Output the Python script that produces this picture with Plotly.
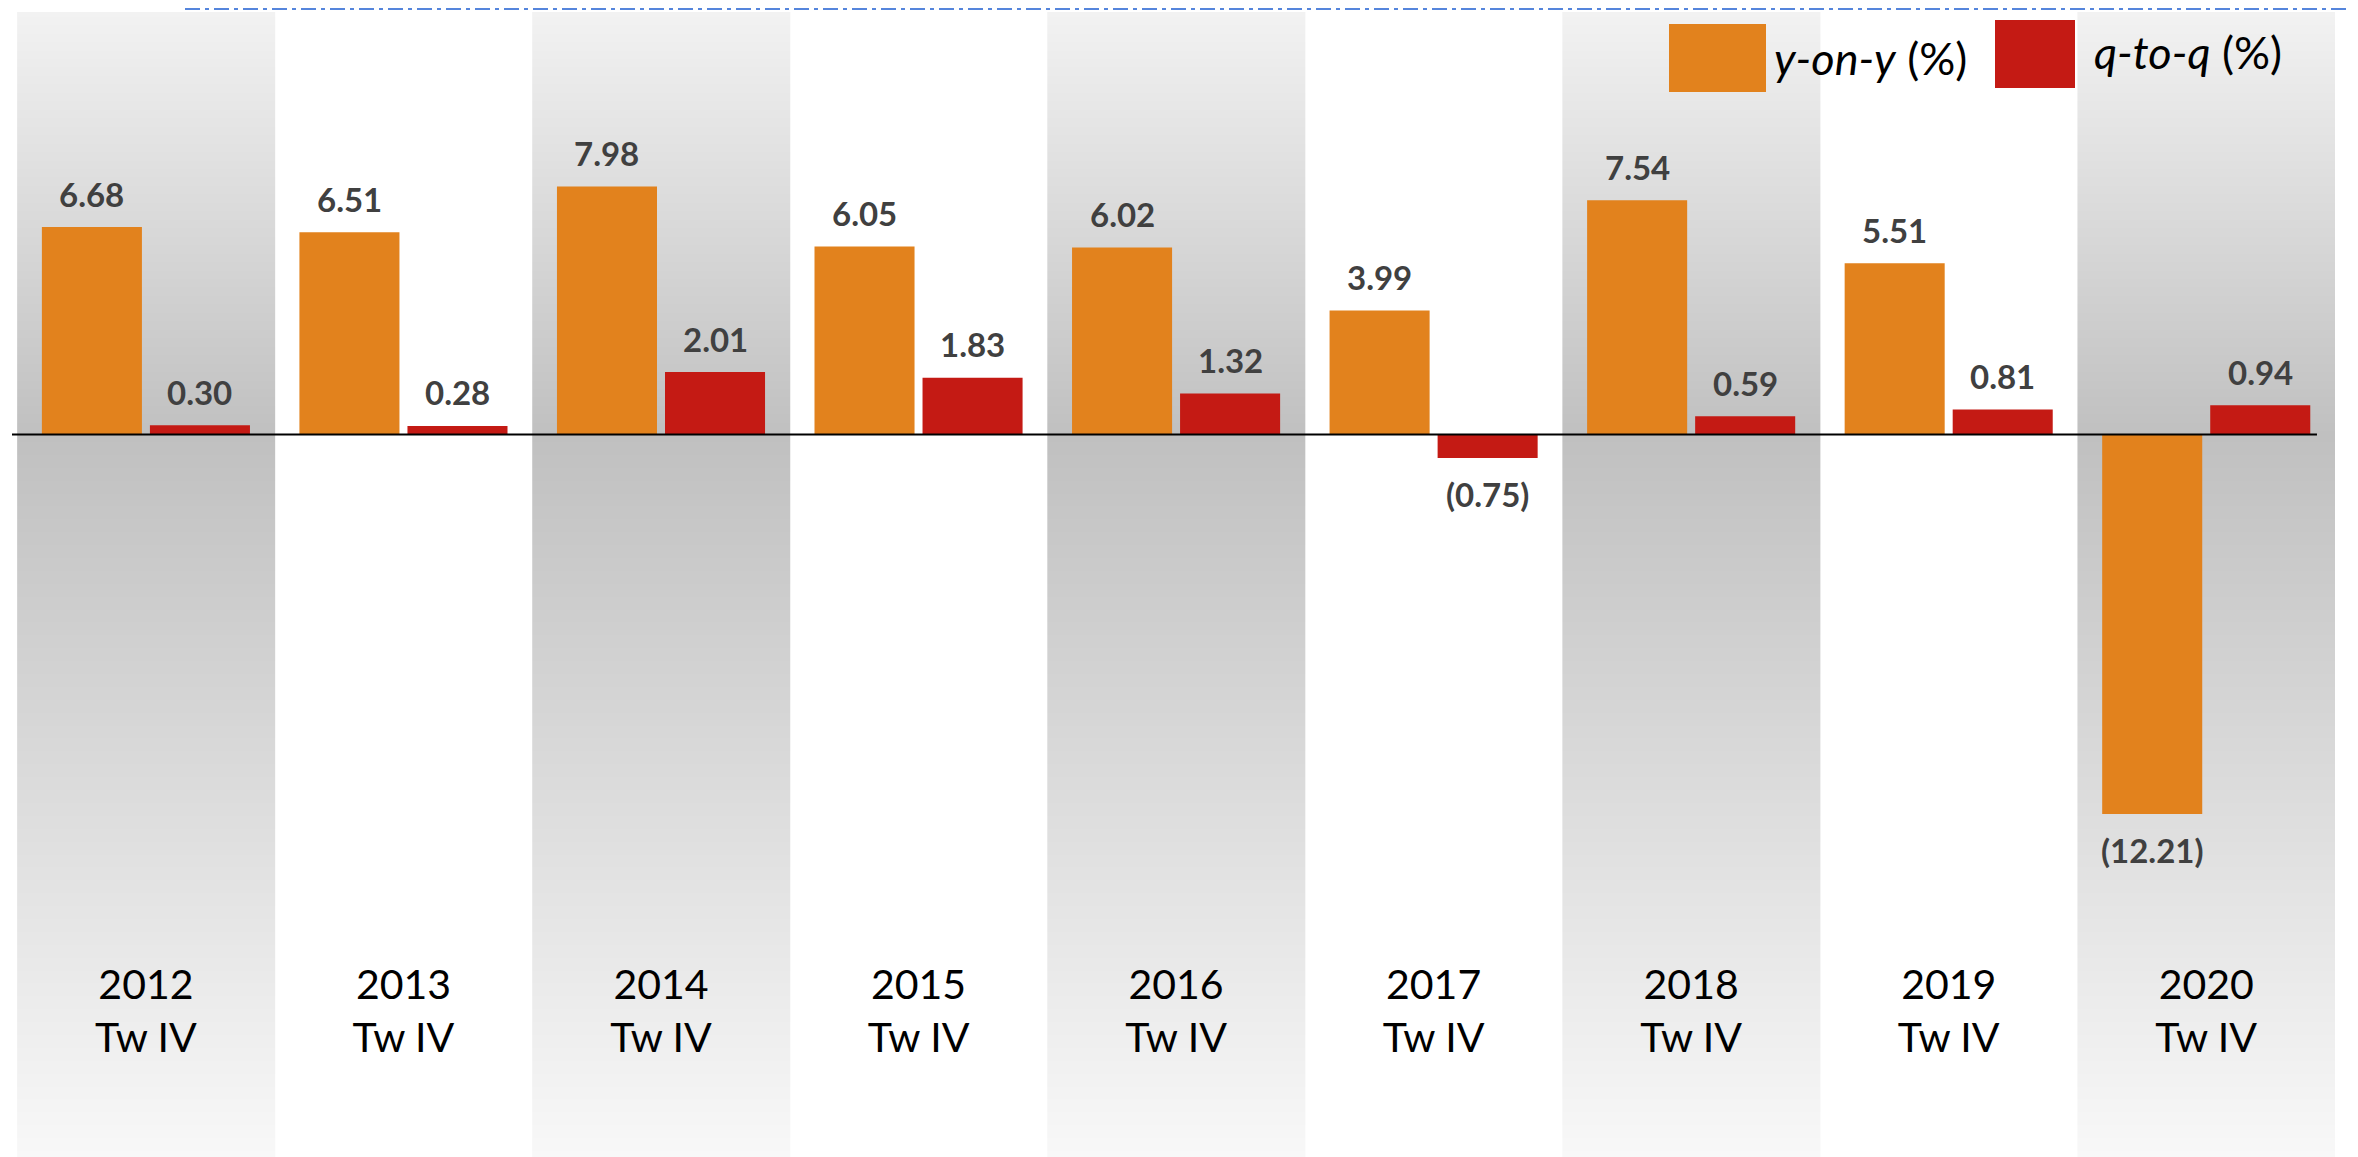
import plotly.graph_objects as go

# ---------------- data ----------------
categories = ["2012", "2013", "2014", "2015", "2016", "2017", "2018", "2019", "2020"]
quarter_label = "Tw IV"
yoy = [6.68, 6.51, 7.98, 6.05, 6.02, 3.99, 7.54, 5.51, -12.21]
qoq = [0.30, 0.28, 2.01, 1.83, 1.32, -0.75, 0.59, 0.81, 0.94]
series_names = ["y-on-y", "q-to-q"]
series_unit = "(%)"

# ---------------- style ----------------
ORANGE = "#E2821D"
RED = "#C41A14"
LABEL_COLOR = "#404040"
OFF = 8                      # default page body margin
PAGE_W, PAGE_H = 2358, 1157
W, H = PAGE_W - OFF, PAGE_H - OFF
# plot area in page pixels: x 12..2335, y 12..1157
ML, MR, MT, MB = 12 - OFF, PAGE_W - 2335, 12 - OFF, 0
X_RANGE = [-0.52, 8.5]
Y_RANGE = [-23.25, 13.6]
BARGAP = 0.161
BARGROUPGAP = 0.074
PW = W - ML - MR
PH = H - MT - MB
FONT = "Lato"


def px_x(px):
    """page pixel x -> paper fraction"""
    return (px - OFF - ML) / PW


def px_y(py):
    """page pixel y -> paper fraction"""
    return 1 - (py - OFF - MT) / PH


def fmt(v):
    return f"({abs(v):.2f})" if v < 0 else f"{v:.2f}"


xs = list(range(len(categories)))
fig = go.Figure()

# gradient background bands (alternate categories)
band_y = [Y_RANGE[1], 0, Y_RANGE[0]]
band_gray = [242, 192, 248]
for i in range(0, len(categories), 2):
    x0 = max(i - 0.5, X_RANGE[0])
    x1 = i + 0.5
    fig.add_trace(go.Heatmap(
        x=[x0, i, x1], y=band_y, z=[[g, g] for g in band_gray],
        zmin=0, zmax=255, zsmooth="best",
        colorscale=[[0, "rgb(0,0,0)"], [1, "rgb(255,255,255)"]],
        showscale=False, hoverinfo="skip",
    ))

# bars
for vals, name, color in [(yoy, series_names[0], ORANGE), (qoq, series_names[1], RED)]:
    fig.add_trace(go.Bar(
        x=xs, y=vals, name=f"{name} {series_unit}", marker=dict(color=color, line=dict(width=0)),
        showlegend=False,
    ))

# data labels, positioned from bar group geometry
slot = (1 - BARGAP) / 2
offsets = [-slot / 2, slot / 2]
annotations = []
for vals, off in zip([yoy, qoq], offsets):
    for i, v in enumerate(vals):
        annotations.append(dict(
            x=i + off, y=v, xref="x", yref="y", text=fmt(v), showarrow=False,
            xanchor="center", yanchor="middle", yshift=33.5 if v >= 0 else -36,
            font=dict(family=FONT, size=33, color=LABEL_COLOR, weight=700),
        ))

# manual legend (large squares)
legend_items = [
    (series_names[0], ORANGE, (1669, 24, 1766, 92), 1772, 58),
    (series_names[1], RED, (1995, 20, 2075, 88), 2092, 52),
]
shapes = []
for name, color, (a, b, c, d), tx, ty in legend_items:
    shapes.append(dict(type="rect", xref="paper", yref="paper",
                       x0=px_x(a), x1=px_x(c), y0=px_y(d), y1=px_y(b),
                       fillcolor=color, line=dict(width=0), layer="above"))
    annotations.append(dict(
        x=px_x(tx), y=px_y(ty), xref="paper", yref="paper",
        text=f"<i>{name}</i> {series_unit}", showarrow=False,
        xanchor="left", yanchor="middle",
        font=dict(family=FONT, size=45, color="#000000"),
    ))

# zero line
shapes.append(dict(type="line", xref="x", yref="y", x0=X_RANGE[0] - 0.01, x1=8.43, y0=0, y1=0,
                   line=dict(color="#000000", width=2), layer="above"))
# dash-dot selection line at the very top
shapes.append(dict(type="line", xref="paper", yref="paper", x0=px_x(185), x1=px_x(PAGE_W), y0=px_y(9), y1=px_y(9),
                   line=dict(color="#5585DC", width=2, dash="15px,5px,4px,5px"), layer="above"))

fig.update_layout(
    width=W, height=H,
    margin=dict(l=ML, r=MR, t=MT, b=MB, pad=0),
    paper_bgcolor="white", plot_bgcolor="white",
    barmode="group", bargap=BARGAP, bargroupgap=BARGROUPGAP,
    showlegend=False,
    annotations=annotations, shapes=shapes,
    xaxis=dict(
        range=X_RANGE, anchor="free", position=px_y(957),
        tickvals=xs, ticktext=[f"{c}<br>{quarter_label}" for c in categories],
        tickfont=dict(family=FONT, size=41, color="#000000"),
        ticks="", showline=False, showgrid=False, zeroline=False,
    ),
    yaxis=dict(range=Y_RANGE, visible=False, showgrid=False, zeroline=False),
)

fig.write_html("out.html")
